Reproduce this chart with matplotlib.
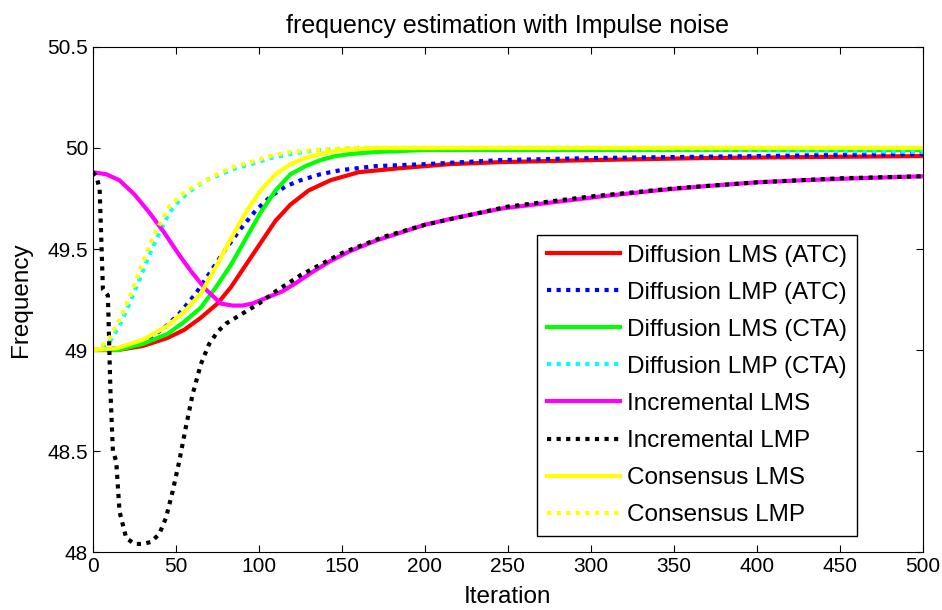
import matplotlib
matplotlib.use("Agg")
import matplotlib.pyplot as plt

plt.rcParams['font.family'] = ['Liberation Sans', 'DejaVu Sans']

# Diffusion LMS (ATC)
red_x = [0, 15, 30, 45, 55, 65, 75, 83, 92, 101, 110, 119, 130, 143, 160, 185, 215, 246, 300, 367, 430, 500]
red_y = [49.0, 49.0, 49.02, 49.06, 49.10, 49.16, 49.23, 49.31, 49.42, 49.53, 49.64, 49.72, 49.79, 49.84, 49.88, 49.90, 49.92, 49.93, 49.94, 49.95, 49.955, 49.96]

# Diffusion LMP (ATC)
blue_x = [0, 15, 25, 34, 43, 52, 62, 71, 80, 89, 98, 107, 116, 125, 137, 149, 170, 200, 246, 300, 400, 500]
blue_y = [49.0, 49.01, 49.03, 49.06, 49.11, 49.18, 49.28, 49.39, 49.50, 49.60, 49.69, 49.76, 49.81, 49.84, 49.87, 49.89, 49.91, 49.92, 49.94, 49.95, 49.96, 49.97]

# Diffusion LMS (CTA)
green_x = [0, 15, 30, 45, 55, 65, 74, 83, 92, 101, 110, 119, 128, 137, 146, 155, 170, 200, 300, 400, 500]
green_y = [49.0, 49.0, 49.03, 49.08, 49.14, 49.21, 49.31, 49.42, 49.55, 49.68, 49.79, 49.87, 49.91, 49.94, 49.96, 49.97, 49.98, 49.99, 49.99, 49.99, 49.99]

# Diffusion LMP (CTA)
cyan_x = [0, 5, 10, 16, 22, 28, 34, 40, 46, 52, 59, 68, 77, 86, 95, 107, 119, 135, 160, 200, 300, 400, 500]
cyan_y = [49.0, 49.01, 49.04, 49.12, 49.23, 49.35, 49.47, 49.58, 49.68, 49.74, 49.79, 49.84, 49.87, 49.90, 49.92, 49.95, 49.97, 49.99, 50.0, 50.0, 50.0, 49.99, 49.98]

# Incremental LMS
mag_x = [0, 8, 16, 25, 34, 43, 52, 60, 68, 77, 84, 90, 96, 102, 108, 114, 122, 131, 143, 155, 170, 185, 200, 216, 246, 276, 306, 340, 367, 400, 427, 460, 500]
mag_y = [49.88, 49.87, 49.84, 49.77, 49.68, 49.58, 49.47, 49.38, 49.30, 49.23, 49.22, 49.22, 49.23, 49.25, 49.27, 49.29, 49.33, 49.38, 49.44, 49.49, 49.54, 49.58, 49.62, 49.65, 49.70, 49.73, 49.76, 49.79, 49.81, 49.83, 49.84, 49.85, 49.86]

# Incremental LMP
blk_x = [0, 2, 4, 6, 9, 10.5, 12, 14, 16, 20, 25, 30, 35, 40, 44, 48, 52, 56, 60, 65, 70, 75, 80, 90, 100, 110, 125, 150, 175, 200, 250, 300, 350, 400, 450, 500]
blk_y = [49.88, 49.86, 49.80, 49.30, 49.27, 48.80, 48.50, 48.45, 48.20, 48.07, 48.04, 48.04, 48.05, 48.09, 48.17, 48.30, 48.45, 48.62, 48.78, 48.93, 49.03, 49.09, 49.13, 49.18, 49.23, 49.29, 49.37, 49.48, 49.56, 49.62, 49.71, 49.76, 49.80, 49.83, 49.85, 49.86]

# Consensus LMS
yel_x = [0, 15, 30, 45, 55, 65, 74, 83, 92, 101, 110, 119, 128, 137, 149, 170, 200, 300, 400, 500]
yel_y = [49.0, 49.01, 49.05, 49.12, 49.19, 49.28, 49.41, 49.55, 49.68, 49.79, 49.87, 49.92, 49.95, 49.97, 49.99, 50.0, 50.0, 50.0, 50.0, 50.0]

# Consensus LMP
yeld_x = [0, 5, 10, 16, 22, 28, 34, 40, 46, 52, 59, 68, 77, 86, 95, 107, 119, 135, 160, 200, 300, 400, 500]
yeld_y = [49.0, 49.02, 49.06, 49.15, 49.26, 49.39, 49.52, 49.62, 49.71, 49.76, 49.80, 49.84, 49.88, 49.91, 49.93, 49.96, 49.98, 49.99, 50.0, 50.0, 50.0, 50.0, 50.0]

labels = ['Diffusion LMS (ATC)', 'Diffusion LMP (ATC)', 'Diffusion LMS (CTA)', 'Diffusion LMP (CTA)',
          'Incremental LMS', 'Incremental LMP', 'Consensus LMS', 'Consensus LMP']

fig = plt.figure(figsize=(9.42, 6.10), dpi=100)
ax = fig.add_axes([0.0987, 0.095, 0.881, 0.828])

dot = (1, 1.3)
ax.plot(red_x, red_y, color='#FF0000', lw=3, label=labels[0])
ax.plot(blue_x, blue_y, color='#0000FF', lw=3, dashes=dot, dash_capstyle='butt', label=labels[1])
ax.plot(green_x, green_y, color='#00FF00', lw=3, label=labels[2])
ax.plot(cyan_x, cyan_y, color='#00FFFF', lw=3, dashes=dot, dash_capstyle='butt', label=labels[3])
ax.plot(mag_x, mag_y, color='#FF00FF', lw=3, label=labels[4])
ax.plot(blk_x, blk_y, color='#000000', lw=3, dashes=dot, dash_capstyle='butt', label=labels[5])
ax.plot(yel_x, yel_y, color='#FFFF00', lw=3, label=labels[6])
ax.plot(yeld_x, yeld_y, color='#FFFF00', lw=3, dashes=dot, dash_capstyle='butt', label=labels[7])

ax.set_xlim(0, 500)
ax.set_ylim(48, 50.5)
ax.set_xticks(range(0, 501, 50))
ax.set_yticks([48, 48.5, 49, 49.5, 50, 50.5])
ax.set_yticklabels(['48', '48.5', '49', '49.5', '50', '50.5'])
ax.tick_params(direction='in', top=True, right=True, labelsize=15, length=5)
ax.set_title('frequency estimation with Impulse noise', fontsize=18, pad=10)
ax.set_xlabel('Iteration', fontsize=17.5, labelpad=7)
ax.set_ylabel('Frequency', fontsize=17.5, labelpad=11)

leg = ax.legend(loc='upper left', bbox_to_anchor=(0.535, 0.628),
                fontsize=17.5, fancybox=False, edgecolor='k', framealpha=1,
                handlelength=3.0, handletextpad=0.3, labelspacing=0.62,
                borderpad=0.4, borderaxespad=0)
leg.get_frame().set_linewidth(1.0)

fig.savefig('out.png', dpi=100)
